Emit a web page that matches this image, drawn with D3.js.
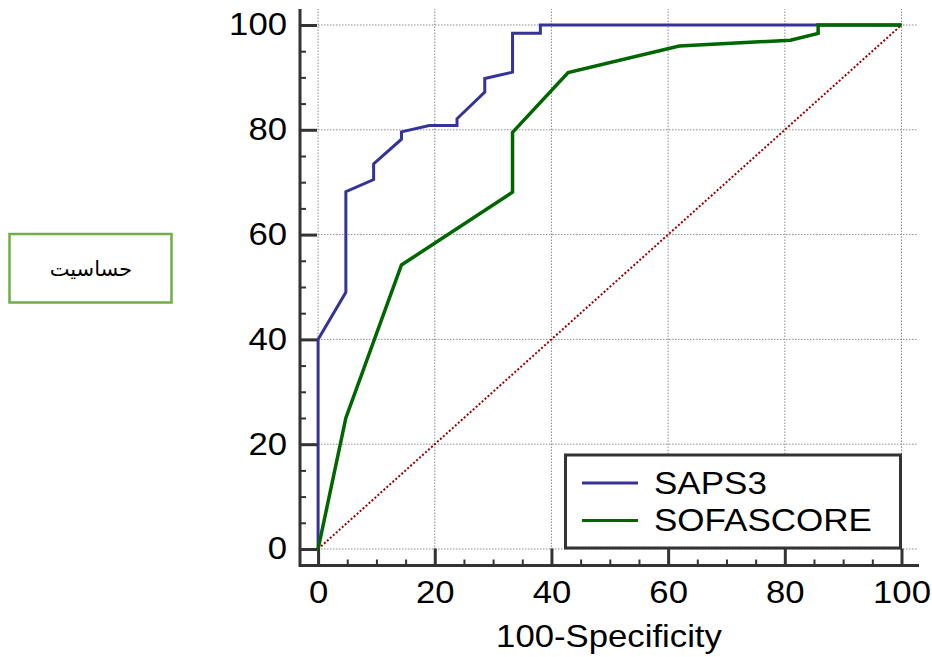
<!DOCTYPE html>
<html>
<head>
<meta charset="utf-8">
<script src="https://cdn.jsdelivr.net/npm/d3@7"></script>
<style>
  html, body { margin: 0; padding: 0; background: #fff; }
  svg { display: block; font-family: "Liberation Sans", Arial, sans-serif; }
</style>
</head>
<body>
<svg id="roc"></svg>
<script>
  // ROC points (100-Specificity, Sensitivity)
  const sapsX = [0, 0, 4.76, 4.76, 9.52, 9.52, 14.29, 14.29, 19.05, 23.81, 23.81, 28.57, 28.57, 33.33, 33.33, 38.1, 38.1, 100];
  const sapsY = [0, 40, 49, 68.2, 70.5, 73.5, 78.2, 79.6, 80.8, 80.8, 82.1, 87.2, 89.8, 91, 98.4, 98.4, 100, 100];
  const sofaX = [0, 4.76, 14.29, 33.33, 33.33, 42.86, 61.9, 80.95, 85.71, 85.71, 100];
  const sofaY = [0, 25, 54.2, 68.1, 79.5, 90.9, 96, 97.1, 98.4, 100, 100];
  const seriesNames = ['SAPS3', 'SOFASCORE'];
  const seriesColors = ['#333399', '#006600'];
  const majorTicks = [0, 20, 40, 60, 80, 100];
  const minorTicks = [5, 10, 15, 25, 30, 35, 45, 50, 55, 65, 70, 75, 85, 90, 95];
  const xTitle = '100-Specificity';
  const yTitle = 'حساسیت';

  (function(){
    const width = 932, height = 657;
    const sx = 1.12; // reference text is a bit wide

    const svg = d3.select('svg#roc')
        .attr('width', width)
        .attr('height', height);

    const x = d3.scaleLinear().domain([-3.1, 103]).range([300, 919]);
    const y = d3.scaleLinear().domain([-3.15, 103.05]).range([565.5, 9]);

    // grid
    const grid = svg.append('g')
        .attr('stroke', '#8c8c8c')
        .attr('stroke-width', 1)
        .attr('stroke-dasharray', '1.5,1.5');
    grid.selectAll('line.h').data(majorTicks).enter().append('line')
        .attr('x1', 300).attr('x2', 917)
        .attr('y1', d => y(d)).attr('y2', d => y(d));
    grid.selectAll('line.v').data(majorTicks).enter().append('line')
        .attr('y1', 565).attr('y2', 9)
        .attr('x1', d => x(d)).attr('x2', d => x(d));

    // reference diagonal
    svg.append('line')
        .attr('x1', x(0)).attr('y1', y(0))
        .attr('x2', x(100)).attr('y2', y(100))
        .attr('stroke', '#990000')
        .attr('stroke-width', 2)
        .attr('stroke-dasharray', '2,2');

    const line = d3.line().x(d => x(d[0])).y(d => y(d[1]));
    const series = [d3.zip(sapsX, sapsY), d3.zip(sofaX, sofaY)];

    svg.append('g').selectAll('path')
      .data(series)
      .enter().append('path')
        .attr('d', line)
        .attr('fill', 'none')
        .attr('stroke', (d, i) => seriesColors[i])
        .attr('stroke-width', (d, i) => i ? 3.5 : 3);

    // axes
    function styleAxis(g, w){
      g.select('.domain').remove();
      g.selectAll('.tick line').attr('stroke', '#333').attr('stroke-width', w);
      g.selectAll('.tick text')
          .attr('fill', '#000')
          .attr('font-size', 31)
          .attr('font-family', '"Liberation Sans", Arial, sans-serif');
    }

    const xMinor = svg.append('g')
        .attr('transform', 'translate(0,565.5)')
        .call(d3.axisBottom(x).tickValues(minorTicks).tickSize(-6).tickFormat(''));
    styleAxis(xMinor, 2);
    const yMinor = svg.append('g')
        .attr('transform', 'translate(300,0)')
        .call(d3.axisLeft(y).tickValues(minorTicks).tickSize(-6).tickFormat(''));
    styleAxis(yMinor, 2);

    const xAxis = svg.append('g')
        .attr('transform', 'translate(0,565.5)')
        .call(d3.axisBottom(x).tickValues(majorTicks).tickSize(-17).tickPadding(16));
    styleAxis(xAxis, 3);
    xAxis.selectAll('.tick text').attr('transform', `scale(${sx},1)`);

    const yAxis = svg.append('g')
        .attr('transform', 'translate(300,0)')
        .call(d3.axisLeft(y).tickValues(majorTicks).tickSize(-17).tickPadding(13));
    styleAxis(yAxis, 3);
    yAxis.selectAll('.tick text')
        .attr('x', -13 / sx)
        .attr('transform', `scale(${sx},1)`);

    // axis lines
    svg.append('path')
        .attr('d', `M300,9V565.5H919`)
        .attr('fill', 'none')
        .attr('stroke', '#333')
        .attr('stroke-width', 3);

    svg.append('text')
        .attr('transform', `translate(609,646.5) scale(${sx},1)`)
        .attr('text-anchor', 'middle')
        .attr('font-size', 31)
        .text(xTitle);

    // legend
    const legend = svg.append('g');
    legend.append('rect')
        .attr('x', 565.5).attr('y', 455)
        .attr('width', 335).attr('height', 93)
        .attr('fill', '#fff')
        .attr('stroke', '#333')
        .attr('stroke-width', 3);
    const item = legend.selectAll('g.item')
      .data(seriesNames)
      .enter().append('g')
        .attr('transform', (d, i) => `translate(0,${483 + i * 37.5})`);
    item.append('line')
        .attr('x1', 582).attr('x2', 638)
        .attr('stroke', (d, i) => seriesColors[i])
        .attr('stroke-width', 3);
    item.append('text')
        .attr('transform', `translate(654,10.5) scale(1.13,1)`)
        .attr('font-size', 31)
        .text(d => d);

    // side label box
    svg.append('rect')
        .attr('x', 9.5).attr('y', 234)
        .attr('width', 162).attr('height', 68.5)
        .attr('fill', 'none')
        .attr('stroke', '#70ad47')
        .attr('stroke-width', 2.5);
    svg.append('text')
        .attr('x', 91).attr('y', 276)
        .attr('text-anchor', 'middle')
        .attr('font-family', '"DejaVu Sans", sans-serif')
        .attr('font-size', 21)
        .attr('direction', 'rtl')
        .text(yTitle);
  })();
</script>
</body>
</html>
